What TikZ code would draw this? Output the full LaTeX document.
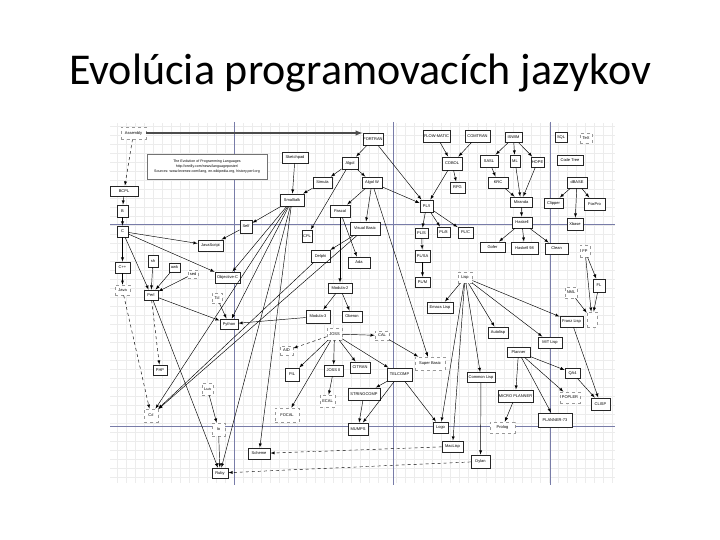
\documentclass[tikz,border=0pt]{standalone}
\usepackage{fontspec}
\setmainfont{Carlito}
\newfontfamily\diag{Liberation Sans}
\usepackage{xcolor}
\usepackage{tikz}
\definecolor{pagecol}{RGB}{120,124,168}

\begin{document}
\begin{tikzpicture}[x=1pt,y=-1pt,>=latex,
  lang/.style={draw=black!85,line width=0.85pt,fill=white,font=\diag\fontsize{4}{4.5}\selectfont,inner sep=0.4pt},
  faint/.style={lang,draw=black!40,line width=0.7pt,dashed},
  link/.style={->,line width=0.45pt},
  pageline/.style={pagecol,line width=0.8pt}]
\useasboundingbox (0,0) rectangle (720,540);
\node[anchor=base,font=\fontsize{44}{52}\selectfont] (title) at (360,85) {Evolúcia programovacích jazykov};
\draw[step=9pt,gray!15,very thin] (110,123) grid (615,483);
\foreach \x in {234,393,550} \draw[pageline] (\x,122) -- (\x,485);
\foreach \y in {224,426} \draw[pageline] (110,\y) -- (615,\y);

\node[faint,minimum width=25pt,minimum height=12pt] (asm) at (133.5,133) {Assembly};
\node[lang,minimum width=20pt,minimum height=12pt] (fortran) at (373,139) {FORTRAN};
\node[lang,draw=black!55,line width=0.5pt,minimum width=120pt,minimum height=25pt,align=center,font=\diag\fontsize{3.6}{4.6}\selectfont] (note) at (207,166.5) {The Evolution of Programming Languages\\http://oreilly.com/news/languageposter/\\Sources: www.levenez.com/lang, en.wikipedia.org, history.perl.org};
\node[lang,minimum width=27pt,minimum height=12pt] (flow) at (436.5,136) {FLOW-MATIC};
\node[lang,minimum width=25pt,minimum height=12pt] (comtran) at (477.5,136) {COMTRAN};
\node[lang,minimum width=17pt,minimum height=10pt] (iswim) at (513.5,137.5) {ISWIM};
\node[lang,minimum width=12pt,minimum height=10pt] (sql) at (561,137) {SQL};
\node[faint,minimum width=12pt,minimum height=10pt] (tex) at (586,138) {TeX};
\node[lang,minimum width=26pt,minimum height=11pt] (sketch) at (295,157.5) {Sketchpad};
\node[lang,minimum width=16pt,minimum height=12pt] (algol) at (350,163) {Algol};
\node[lang,minimum width=20pt,minimum height=13pt] (cobol) at (452,163.5) {COBOL};
\node[lang,minimum width=18pt,minimum height=12pt] (sasl) at (489,161) {SASL};
\node[lang,minimum width=10pt,minimum height=12pt] (ml) at (515,161) {ML};
\node[lang,minimum width=13pt,minimum height=10pt] (hope) at (537.5,162) {HOPE};
\node[lang,minimum width=26pt,minimum height=10pt] (codetree) at (570,160) {Code Tree};
\node[lang,minimum width=28pt,minimum height=10pt] (bcpl) at (124,191) {BCPL};
\node[lang,minimum width=19pt,minimum height=11pt] (simula) at (322.5,182.5) {Simula};
\node[lang,minimum width=20pt,minimum height=11pt] (algolw) at (372,182.5) {Algol W};
\node[lang,minimum width=15pt,minimum height=11pt] (rpg) at (457.5,187.5) {RPG};
\node[lang,minimum width=20pt,minimum height=11pt] (krc) at (498,182.5) {KRC};
\node[lang,minimum width=20pt,minimum height=11pt] (dbase) at (577,182.5) {dBASE};
\node[lang,minimum width=24pt,minimum height=12pt] (smalltalk) at (292,200) {Smalltalk};
\node[lang,minimum width=13pt,minimum height=12pt] (pli) at (426.5,206) {PL/I};
\node[lang,minimum width=22pt,minimum height=10pt] (miranda) at (521,202) {Miranda};
\node[lang,minimum width=19pt,minimum height=10pt] (clipper) at (553.5,203) {Clipper};
\node[lang,minimum width=21pt,minimum height=12pt] (foxpro) at (594.5,204) {FoxPro};
\node[lang,minimum width=11pt,minimum height=12pt] (b) at (122.5,211) {B};
\node[lang,minimum width=20pt,minimum height=12pt] (pascal) at (340,211) {Pascal};
\node[lang,minimum width=20pt,minimum height=11pt] (haskell) at (522,222.5) {Haskell};
\node[lang,minimum width=16pt,minimum height=12pt] (xbase) at (575,224) {Xbase};
\node[lang,minimum width=11pt,minimum height=11pt] (c) at (122.5,231.5) {C};
\node[lang,minimum width=12pt,minimum height=13pt] (self) at (246,226.5) {Self};
\node[lang,minimum width=10pt,minimum height=12pt] (cpl) at (307,236) {CPL};
\node[lang,minimum width=30pt,minimum height=13pt] (visual) at (365,228.5) {Visual Basic};
\node[lang,minimum width=13pt,minimum height=10pt] (pls) at (421.5,233) {PL/S};
\node[lang,minimum width=13pt,minimum height=10pt] (pleight) at (443.5,232) {PL/8};
\node[lang,minimum width=15pt,minimum height=11pt] (plc) at (465.5,232.5) {PL/C};
\node[lang,minimum width=25pt,minimum height=11pt] (js) at (210.5,245.5) {JavaScript};
\node[lang,minimum width=25pt,minimum height=10pt] (gofer) at (492.5,247) {Gofer};
\node[lang,minimum width=27pt,minimum height=12pt] (hasn) at (524.5,248) {Haskell 98};
\node[lang,minimum width=23pt,minimum height=11pt] (clean) at (556.5,248.5) {Clean};
\node[faint,minimum width=10pt,minimum height=12pt] (fp) at (585,251) {FP};
\node[lang,minimum width=19pt,minimum height=12pt] (delphi) at (320.5,256) {Delphi};
\node[lang,minimum width=22pt,minimum height=11pt] (ada) at (359,262.5) {Ada};
\node[lang,minimum width=15pt,minimum height=12pt] (plsa) at (422.5,256) {PL/SA};
\node[lang,minimum width=10pt,minimum height=12pt] (sh) at (153,261) {sh};
\node[lang,minimum width=11pt,minimum height=9pt] (awk) at (174.5,267.5) {awk};
\node[faint,minimum width=10pt,minimum height=8pt] (sed) at (193,274) {sed};
\node[lang,minimum width=15pt,minimum height=11pt] (cpp) at (122.5,267.5) {C++};
\node[lang,minimum width=25pt,minimum height=11pt] (objc) at (227.5,277.5) {Objective-C};
\node[faint,minimum width=14pt,minimum height=11pt] (lisp) at (465,277.5) {Lisp};
\node[lang,minimum width=15pt,minimum height=10pt] (plm) at (422.5,282) {PL/M};
\node[lang,minimum width=12pt,minimum height=13pt] (fl) at (599,285.5) {FL};
\node[lang,minimum width=24pt,minimum height=10pt] (modula) at (340,288) {Modula-2};
\node[faint,minimum width=15pt,minimum height=10pt] (java) at (122.5,290) {Java};
\node[lang,minimum width=14pt,minimum height=10pt] (perl) at (151,295) {Perl};
\node[faint,minimum width=12pt,minimum height=11pt] (nml) at (571,292.5) {NML};
\node[faint,minimum width=10pt,minimum height=10pt] (tcl) at (217,298) {Tcl};
\node[lang,minimum width=26pt,minimum height=11pt] (emacs) at (440,307.5) {Emacs Lisp};
\node[lang,minimum width=24pt,minimum height=13pt] (modulath) at (318,316.5) {Modula-3};
\node[lang,minimum width=20pt,minimum height=11pt] (oberon) at (352,316.5) {Oberon};
\node[faint,minimum width=10pt,minimum height=15pt] (unk) at (592,319.5) {};
\node[lang,minimum width=23pt,minimum height=11pt] (franz) at (571.5,321.5) {Franz Lisp};
\node[lang,minimum width=18pt,minimum height=10pt] (python) at (229,324) {Python};
\node[lang,minimum width=20pt,minimum height=11pt] (autolisp) at (498,332.5) {Autolisp};
\node[faint,minimum width=15pt,minimum height=12pt] (joss) at (334.5,334) {JOSS};
\node[faint,minimum width=14pt,minimum height=9pt] (cal) at (382,335.5) {CAL};
\node[lang,minimum width=24pt,minimum height=11pt] (mitlisp) at (550,342.5) {MIT Lisp};
\node[faint,minimum width=13pt,minimum height=9pt] (aid) at (286.5,350.5) {AID};
\node[lang,minimum width=23pt,minimum height=10pt] (planner) at (518.5,352) {Planner};
\node[lang,minimum width=14pt,minimum height=10pt] (php) at (160,370) {PHP};
\node[lang,minimum width=14pt,minimum height=13pt] (pil) at (292,374.5) {PIL};
\node[lang,minimum width=19pt,minimum height=11pt] (jossii) at (333.5,370.5) {JOSS II};
\node[lang,minimum width=20pt,minimum height=11pt] (citran) at (360,367.5) {CITRAN};
\node[faint,minimum width=30pt,minimum height=13pt] (superb) at (430,363.5) {Super Basic};
\node[lang,minimum width=25pt,minimum height=13pt] (telcomp) at (399.5,374.5) {TELCOMP};
\node[lang,minimum width=28pt,minimum height=10pt] (common) at (481,377.5) {Common Lisp};
\node[lang,minimum width=15pt,minimum height=10pt] (qa) at (572.5,373) {QA4};
\node[faint,minimum width=11pt,minimum height=12pt] (lua) at (207.5,389) {Lua};
\node[lang,minimum width=32pt,minimum height=12pt] (stringcomp) at (364,394) {STRINGCOMP};
\node[faint,minimum width=15pt,minimum height=12pt] (ecal) at (327.5,401) {ECAL};
\node[lang,minimum width=35pt,minimum height=12pt] (microp) at (515.5,396) {MICRO PLANNER};
\node[faint,minimum width=20pt,minimum height=11pt] (popler) at (570,397.5) {POPLER};
\node[lang,minimum width=19pt,minimum height=12pt] (clisp) at (600.5,404) {CLISP};
\node[faint,minimum width=14pt,minimum height=13pt] (csharp) at (151,415.5) {C\#};
\node[faint,minimum width=24pt,minimum height=14pt] (focal) at (287,415) {FOCAL};
\node[lang,minimum width=34pt,minimum height=14pt] (plannerst) at (555,420) {PLANNER-73};
\node[faint,minimum width=13pt,minimum height=13pt] (io) at (218.5,429.5) {Io};
\node[lang,minimum width=20pt,minimum height=12pt] (mumps) at (358,429) {MUMPS};
\node[lang,minimum width=15pt,minimum height=11pt] (logo) at (440.5,427.5) {Logo};
\node[faint,minimum width=25pt,minimum height=11pt] (prolog) at (502.5,427.5) {Prolog};
\node[lang,minimum width=21pt,minimum height=11pt] (maclisp) at (452.5,446.5) {MacLisp};
\node[lang,minimum width=22pt,minimum height=11pt] (scheme) at (259,453.5) {Scheme};
\node[lang,minimum width=19pt,minimum height=13pt] (dylan) at (480.5,461.5) {Dylan};
\node[lang,minimum width=16pt,minimum height=10pt] (ruby) at (220,473) {Ruby};

\draw[link,line width=1.4pt,black!70] (asm.east) -- (asm.east -| fortran.west);
\foreach \s/\t in {asm/bcpl,java/csharp,perl/php,joss/aid,maclisp/scheme,dylan/ruby}
  \draw[link,dashed] (\s) -- (\t);
\foreach \s/\t in {bcpl/b,b/c,c/cpp,c/js,c/objc,c/perl,cpp/java,sh/perl,awk/perl,sed/perl,
  perl/python,perl/ruby,tcl/python,self/js,smalltalk/self,smalltalk/objc,smalltalk/csharp,
  smalltalk/python,smalltalk/ruby,smalltalk/scheme,sketch/smalltalk,simula/smalltalk,
  fortran/algol,fortran/pli,algol/simula,algol/algolw,algol/cpl,algolw/pascal,algolw/pli,
  algolw/visual,algolw/superb,flow/cobol,comtran/cobol,cobol/pli,cobol/rpg,pli/pls,
  pli/pleight,pli/plc,pls/plsa,plsa/plm,iswim/sasl,iswim/ml,iswim/hope,sasl/krc,
  krc/miranda,ml/miranda,hope/miranda,miranda/haskell,haskell/gofer,haskell/hasn,
  haskell/clean,dbase/clipper,dbase/foxpro,dbase/xbase,fp/fl,fp/unk,fl/unk,nml/unk,
  pascal/modula,pascal/ada,visual/delphi,delphi/csharp,visual/csharp,modula/modulath,
  modula/oberon,modulath/python,joss/pil,joss/jossii,joss/citran,joss/focal,joss/telcomp,
  joss/cal,jossii/ecal,cal/superb,telcomp/stringcomp,telcomp/mumps,telcomp/logo,
  stringcomp/mumps,lisp/emacs,lisp/autolisp,lisp/franz,lisp/mitlisp,lisp/logo,
  lisp/maclisp,lisp/common,common/dylan,franz/clisp,qa/clisp,planner/microp,planner/qa,
  planner/popler,planner/plannerst,microp/prolog,lua/io,io/ruby}
  \draw[link] (\s) -- (\t);
\end{tikzpicture}
\end{document}
